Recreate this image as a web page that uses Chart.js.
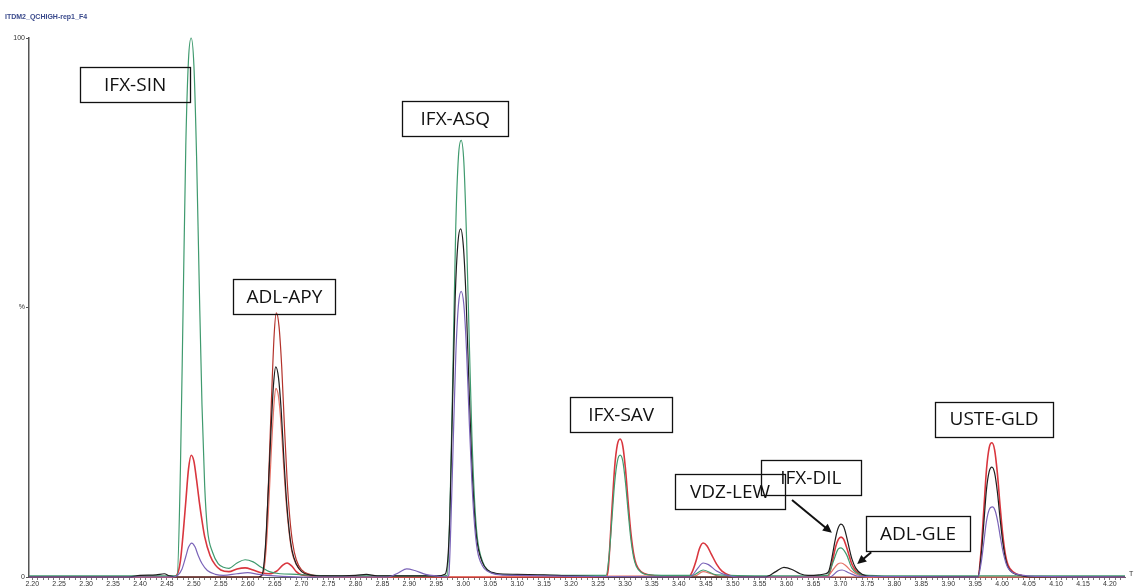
<!DOCTYPE html>
<html>
<head>
<meta charset="utf-8">
<script src="https://cdn.jsdelivr.net/npm/chart.js@4.4.1/dist/chart.umd.min.js"></script>
<style>
  html, body { margin: 0; padding: 0; background: #fff; }
  #wrap { width: 1137px; height: 586px; }
</style>
</head>
<body>
<div id="wrap"><canvas id="chromChart" width="1137" height="586"></canvas></div>
<script>
// ───────── chromatogram overlay (ITDM2_QCHIGH-rep1_F4) ─────────

const chartTitle = 'ITDM2_QCHIGH-rep1_F4';

// axis range and tick labels
const timeMin = 2.194;
const timeMax = 4.228;
const yTickLabels = { 0: '0', 50: '%', 100: '100' };

// ─ traces: [retention time, relative abundance %]
const greenTrace = [
  [2.194, 0.2], [2.40, 0.2], [2.46, 0.2], [2.469, 0.3], [2.475, 20], [2.48, 50], [2.485, 80],
  [2.49, 96], [2.495, 100], [2.50, 95], [2.505, 78], [2.51, 54], [2.515, 32], [2.52, 17],
  [2.525, 9], [2.535, 4.5], [2.545, 2.5], [2.555, 1.8], [2.565, 1.6], [2.58, 2.6], [2.595, 3.2],
  [2.61, 2.8], [2.625, 1.8], [2.64, 1.0], [2.66, 0.6], [2.69, 0.5], [2.72, 0.3], [2.80, 0.2],
  [2.96, 0.2], [2.970, 0.3], [2.976, 16], [2.981, 40], [2.986, 65], [2.991, 78], [2.996, 81],
  [3.001, 77], [3.006, 63], [3.011, 44], [3.016, 26], [3.021, 14], [3.026, 7.3], [3.036, 2.8],
  [3.046, 1.2], [3.06, 0.6], [3.10, 0.4], [3.20, 0.3], [3.265, 0.3], [3.271, 4.4], [3.276, 11],
  [3.281, 17.6], [3.286, 21.5], [3.291, 22.6], [3.296, 21.5], [3.301, 17.5], [3.306, 12],
  [3.311, 7], [3.316, 3.7], [3.321, 2], [3.331, 0.8], [3.345, 0.4], [3.40, 0.3], [3.425, 0.3],
  [3.445, 1.3], [3.47, 0.4], [3.60, 0.2], [3.676, 0.3], [3.686, 2.7], [3.696, 5.2], [3.701, 5.4],
  [3.711, 4.2], [3.721, 1.7], [3.74, 0.4], [3.80, 0.2], [4.228, 0.2]
];

const redTrace = [
  [2.194, 0], [2.46, 0], [2.468, 0.3], [2.475, 3], [2.48, 8], [2.485, 14], [2.49, 20],
  [2.495, 22.6], [2.50, 21.5], [2.505, 18], [2.51, 14], [2.515, 10.5], [2.52, 7.5], [2.53, 4],
  [2.54, 2.2], [2.55, 1.3], [2.565, 1.0], [2.58, 1.5], [2.595, 1.7], [2.61, 1.3], [2.625, 0.8],
  [2.64, 0.6], [2.655, 1.2], [2.665, 2.2], [2.673, 2.6], [2.682, 2.0], [2.69, 1.0], [2.70, 0.4],
  [2.75, 0.1], [2.80, 0], [3.265, 0], [3.269, 1.5], [3.276, 12.8], [3.281, 20.5], [3.286, 24.6],
  [3.291, 25.6], [3.296, 24.3], [3.301, 20], [3.306, 13.8], [3.311, 8.2], [3.316, 4.4],
  [3.321, 2.3], [3.331, 0.9], [3.345, 0.4], [3.37, 0.1], [3.418, 0], [3.425, 1], [3.432, 3],
  [3.438, 5.2], [3.445, 6.3], [3.452, 5.8], [3.46, 4.3], [3.47, 2.4], [3.48, 1.1], [3.495, 0.3],
  [3.51, 0], [3.675, 0], [3.68, 0.8], [3.686, 3.4], [3.691, 5.6], [3.696, 7.0], [3.701, 7.4],
  [3.706, 7.0], [3.711, 5.6], [3.716, 4.0], [3.721, 2.4], [3.728, 1.2], [3.74, 0.3], [3.75, 0],
  [3.955, 0], [3.961, 5], [3.966, 12.5], [3.971, 20], [3.976, 24], [3.981, 24.9], [3.986, 23.6],
  [3.991, 19.4], [3.996, 13.4], [4.001, 8], [4.006, 4.2], [4.011, 2.2], [4.021, 0.9],
  [4.035, 0.3], [4.05, 0], [4.228, 0]
];

const purpleTrace = [
  [2.194, 0], [2.46, 0], [2.47, 0.3], [2.478, 1.5], [2.485, 3.8], [2.49, 5.5], [2.496, 6.3],
  [2.502, 5.6], [2.508, 4.0], [2.515, 2.5], [2.525, 1.2], [2.54, 0.5], [2.555, 0.3], [2.58, 0.6],
  [2.60, 0.8], [2.62, 0.5], [2.65, 0.2], [2.70, 0], [2.86, 0], [2.88, 0.8], [2.895, 1.5],
  [2.91, 1.2], [2.93, 0.5], [2.95, 0.2], [2.97, 0], [2.973, 0.3], [2.977, 10], [2.981, 24],
  [2.986, 41], [2.991, 50.5], [2.996, 53], [3.001, 50.5], [3.006, 42], [3.011, 29], [3.016, 17.5],
  [3.021, 9.5], [3.026, 5], [3.036, 2], [3.046, 1], [3.06, 0.5], [3.10, 0.3], [3.20, 0.1],
  [3.42, 0], [3.425, 0.3], [3.435, 1.6], [3.445, 2.6], [3.455, 2.3], [3.47, 1.1], [3.49, 0.3],
  [3.51, 0], [3.68, 0], [3.695, 1.1], [3.703, 1.3], [3.715, 0.8], [3.735, 0.1], [3.955, 0],
  [3.961, 2.6], [3.966, 6.5], [3.971, 10.4], [3.976, 12.5], [3.982, 13], [3.987, 12.3],
  [3.992, 10.2], [3.997, 7.2], [4.002, 4.5], [4.007, 2.6], [4.012, 1.5], [4.022, 0.7],
  [4.04, 0.3], [4.07, 0.1], [4.228, 0]
];

const blackTrace = [
  [2.194, 0], [2.38, 0], [2.40, 0.3], [2.43, 0.4], [2.445, 0.6], [2.455, 0.2], [2.47, 0],
  [2.62, 0], [2.627, 0.5], [2.633, 6], [2.638, 16], [2.643, 27], [2.648, 36], [2.652, 39],
  [2.657, 37], [2.662, 31], [2.667, 22], [2.672, 14], [2.677, 8.5], [2.682, 5], [2.69, 2.4],
  [2.70, 1.0], [2.715, 0.4], [2.74, 0.2], [2.80, 0.3], [2.82, 0.5], [2.84, 0.2], [2.95, 0.2],
  [2.966, 0.5], [2.971, 3], [2.975, 11], [2.980, 32], [2.985, 52], [2.990, 62], [2.995, 64.6],
  [3.000, 61.5], [3.005, 52], [3.010, 37], [3.015, 23], [3.020, 13], [3.025, 7], [3.035, 2.8],
  [3.045, 1.3], [3.06, 0.7], [3.10, 0.5], [3.15, 0.4], [3.20, 0.2], [3.30, 0], [3.56, 0],
  [3.58, 1.0], [3.595, 1.8], [3.61, 1.4], [3.625, 0.6], [3.64, 0.3], [3.66, 0.4], [3.672, 0.6],
  [3.678, 1.0], [3.684, 3.5], [3.69, 6.8], [3.695, 8.9], [3.701, 9.8], [3.706, 9.3], [3.711, 7.6],
  [3.716, 5.4], [3.721, 3.4], [3.728, 1.7], [3.74, 0.5], [3.76, 0.1], [3.955, 0], [3.961, 4],
  [3.966, 10], [3.971, 16.3], [3.976, 19.6], [3.981, 20.4], [3.986, 19.3], [3.991, 15.9],
  [3.996, 11], [4.001, 6.6], [4.006, 3.5], [4.011, 1.8], [4.021, 0.7], [4.035, 0.3], [4.05, 0],
  [4.228, 0]
];

const maroonTrace = [
  [2.194, 0], [2.62, 0], [2.628, 0.5], [2.634, 7], [2.639, 19], [2.644, 33], [2.649, 45],
  [2.653, 49], [2.658, 46.5], [2.663, 39], [2.668, 28], [2.673, 18], [2.678, 11], [2.683, 6.5],
  [2.69, 3.2], [2.70, 1.3], [2.715, 0.5], [2.74, 0.2], [2.80, 0], [4.228, 0]
];

const salmonTrace = [
  [2.194, 0], [2.62, 0], [2.628, 0.4], [2.634, 5], [2.639, 13.5], [2.644, 24], [2.649, 32.5],
  [2.652, 35], [2.657, 33.5], [2.662, 28], [2.667, 20], [2.672, 13], [2.677, 8], [2.682, 4.6],
  [2.69, 2.3], [2.70, 1.0], [2.715, 0.4], [2.74, 0], [3.43, 0.2], [3.445, 1.0], [3.46, 0.6],
  [3.48, 0], [3.675, 0], [3.685, 1.2], [3.695, 2.4], [3.701, 2.6], [3.71, 2.1], [3.72, 1.1],
  [3.735, 0.3], [3.75, 0], [4.228, 0]
];

// ─ peak labels (box centre in time / %)
const peakNames = ['IFX-SIN', 'ADL-APY', 'IFX-ASQ', 'IFX-SAV', 'VDZ-LEW', 'IFX-DIL', 'ADL-GLE', 'USTE-GLD'];
const labelTimes = [2.391, 2.668, 2.985, 3.293, 3.495, 3.645, 3.844, 3.985];
const labelHeights = [91.4, 52.1, 85.0, 30.1, 15.8, 18.4, 8.0, 29.3];

// ─ arrows: [time, %] from -> to
const arrowFrom = [[3.610, 14.3], [3.757, 4.6]];
const arrowTo = [[3.684, 8.2], [3.731, 2.4]];

// box widths in px (layout only)
const boxWidths = [110, 102, 106, 102, 110, 100, 104, 118];

const traces = [
  { data: purpleTrace, color: '#7a63b8', width: 1.2 },
  { data: blackTrace, color: '#1e1e1e', width: 1.2 },
  { data: greenTrace, color: '#3f9a6e', width: 1.2 },
  { data: salmonTrace, color: '#e57368', width: 1.2 },
  { data: maroonTrace, color: '#b3322b', width: 1.2 },
  { data: redTrace, color: '#d9363e', width: 1.6 }
];

// ─ labels, arrows and header text
const overlayPlugin = {
  id: 'overlay',
  afterDatasetsDraw(chart) {
    const { ctx, scales: { x, y } } = chart;
    ctx.save();

    // arrows
    ctx.strokeStyle = '#111';
    ctx.fillStyle = '#111';
    ctx.lineWidth = 2;
    arrowFrom.forEach((from, i) => {
      const x1 = x.getPixelForValue(from[0]), y1 = y.getPixelForValue(from[1]);
      const x2 = x.getPixelForValue(arrowTo[i][0]), y2 = y.getPixelForValue(arrowTo[i][1]);
      const a = Math.atan2(y2 - y1, x2 - x1);
      const head = 10;
      ctx.beginPath();
      ctx.moveTo(x1, y1);
      ctx.lineTo(x2 - Math.cos(a) * head * 0.8, y2 - Math.sin(a) * head * 0.8);
      ctx.stroke();
      ctx.beginPath();
      ctx.moveTo(x2, y2);
      ctx.lineTo(x2 - head * Math.cos(a - 0.45), y2 - head * Math.sin(a - 0.45));
      ctx.lineTo(x2 - head * Math.cos(a + 0.45), y2 - head * Math.sin(a + 0.45));
      ctx.closePath();
      ctx.fill();
    });

    // boxes (outline only, so overlapping labels stay readable)
    ctx.font = '19px "Open Sans", "Liberation Sans", sans-serif';
    ctx.textAlign = 'center';
    ctx.textBaseline = 'middle';
    peakNames.forEach((name, i) => {
      const cx = x.getPixelForValue(labelTimes[i]);
      const cy = y.getPixelForValue(labelHeights[i]);
      const w = boxWidths[i];
      const h = 35;
      const left = Math.round(cx - w / 2) + 0.5, top = Math.round(cy - h / 2) + 0.5;
      ctx.strokeStyle = '#111';
      ctx.lineWidth = 1.3;
      ctx.strokeRect(left, top, w, h);
      ctx.fillStyle = '#111';
      ctx.fillText(name, cx, cy + 1);
    });

    // header + axis end letter
    ctx.textAlign = 'left';
    ctx.textBaseline = 'alphabetic';
    ctx.font = 'bold 7px "Liberation Sans", sans-serif';
    ctx.fillStyle = '#3a4a8c';
    ctx.fillText(chartTitle, 5, 19);
    ctx.font = '7px "Liberation Sans", sans-serif';
    ctx.fillStyle = '#333';
    ctx.fillText('T', 1129, 576);
    ctx.restore();
  }
};

// ─ chart
function initChromChart() {
  const ctx = document.getElementById('chromChart').getContext('2d');
  Chart.defaults.font.family = '"Liberation Sans", sans-serif';

  new Chart(ctx, {
    type: 'line',
    data: {
      datasets: traces.map(t => ({
        data: t.data.map(p => ({ x: p[0], y: p[1] })),
        borderColor: t.color,
        borderWidth: t.width,
        pointRadius: 0,
        fill: false,
        clip: 4,
        cubicInterpolationMode: 'monotone'
      }))
    },
    plugins: [overlayPlugin],
    options: {
      responsive: false,
      animation: false,
      layout: { padding: { top: 38, right: 12, left: 0, bottom: 0 } },
      plugins: { legend: { display: false }, tooltip: { enabled: false } },
      scales: {
        x: {
          type: 'linear',
          min: timeMin,
          max: timeMax,
          afterFit: s => { s.height = 9; },
          border: { color: '#555', width: 1 },
          grid: { drawOnChartArea: false, tickLength: 3, color: '#555', lineWidth: 0.8 },
          ticks: {
            stepSize: 0.01,
            includeBounds: false,
            autoSkip: false,
            maxRotation: 0,
            padding: 0,
            color: '#333',
            font: { size: 7 },
            callback: v => {
              const k = Math.round(v * 100);
              return k % 5 === 0 ? (k / 100).toFixed(2) : '';
            }
          }
        },
        y: {
          min: 0,
          max: 100,
          afterFit: s => { s.width = 29; },
          border: { color: '#555', width: 1.5 },
          grid: { drawOnChartArea: false, tickLength: 3, color: '#555' },
          ticks: {
            stepSize: 50,
            padding: 1,
            color: '#333',
            font: { size: 7 },
            callback: v => yTickLabels[v] ?? ''
          }
        }
      }
    }
  });
}

document.addEventListener('DOMContentLoaded', initChromChart);
</script>
</body>
</html>
